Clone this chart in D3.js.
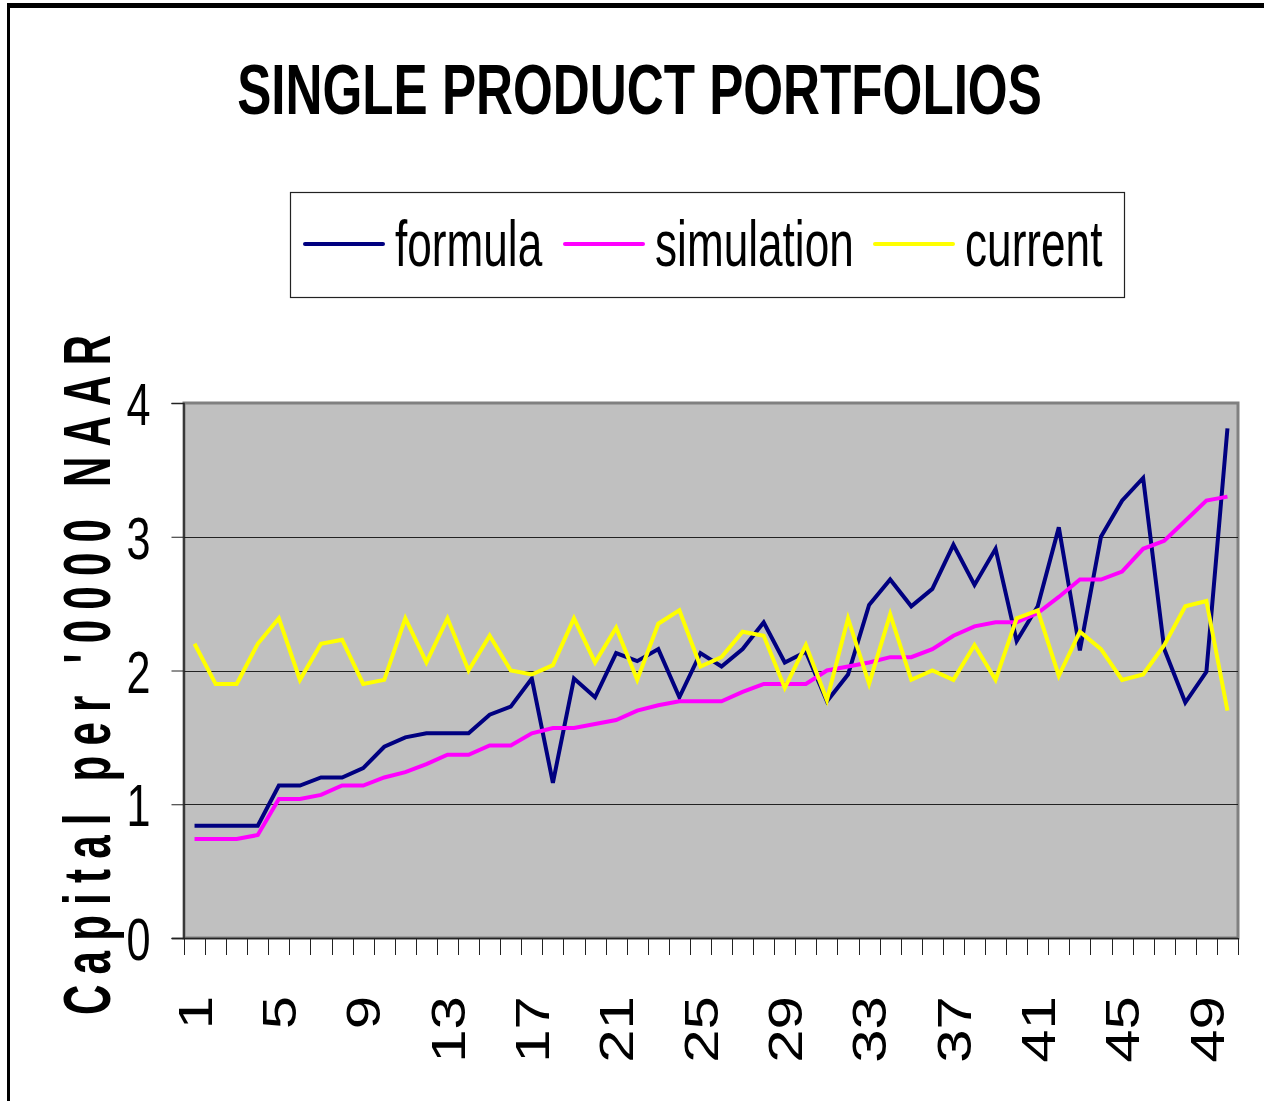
<!DOCTYPE html>
<html lang="en">

<head>
    <meta charset="UTF-8">
    <title>Single product portfolios</title>
    <script src="https://cdn.jsdelivr.net/npm/d3@7/dist/d3.min.js"></script>
</head>
<style>
    * {
        margin: 0;
        padding: 0;
    }

    body {
        background: #fff;
    }

    svg {
        display: block;
        font-family: "Liberation Sans", Arial, sans-serif;
    }
</style>

<body>
    <svg></svg>
</body>

</html>
<script>
    const categories = [1, 2, 3, 4, 5, 6, 7, 8, 9, 10, 11, 12, 13, 14, 15, 16, 17, 18, 19, 20,
        21, 22, 23, 24, 25, 26, 27, 28, 29, 30, 31, 32, 33, 34, 35, 36, 37, 38, 39, 40,
        41, 42, 43, 44, 45, 46, 47, 48, 49, 50];
    const xTickLabels = [1, 5, 9, 13, 17, 21, 25, 29, 33, 37, 41, 45, 49];
    const yTickValues = [0, 1, 2, 3, 4];

    const formula = [0.84, 0.84, 0.84, 0.84, 1.14, 1.14, 1.2, 1.2, 1.27, 1.43,
        1.5, 1.53, 1.53, 1.53, 1.67, 1.73, 1.94, 1.16, 1.94, 1.8,
        2.13, 2.07, 2.16, 1.8, 2.13, 2.03, 2.16, 2.36, 2.06, 2.14,
        1.77, 1.97, 2.49, 2.68, 2.48, 2.61, 2.94, 2.64, 2.91, 2.22,
        2.48, 3.07, 2.15, 3.0, 3.27, 3.44, 2.16, 1.76, 1.99, 3.81];
    const simulation = [0.74, 0.74, 0.74, 0.77, 1.04, 1.04, 1.07, 1.14, 1.14, 1.2,
        1.24, 1.3, 1.37, 1.37, 1.44, 1.44, 1.53, 1.57, 1.57, 1.6,
        1.63, 1.7, 1.74, 1.77, 1.77, 1.77, 1.84, 1.9, 1.9, 1.9,
        2.0, 2.03, 2.06, 2.1, 2.1, 2.16, 2.26, 2.33, 2.36, 2.36,
        2.43, 2.55, 2.68, 2.68, 2.74, 2.91, 2.97, 3.12, 3.27, 3.3];
    const current = [2.2, 1.9, 1.9, 2.2, 2.39, 1.93, 2.2, 2.23, 1.9, 1.93,
        2.39, 2.06, 2.39, 2.0, 2.26, 2.0, 1.97, 2.04, 2.39, 2.06,
        2.32, 1.93, 2.35, 2.45, 2.03, 2.1, 2.29, 2.26, 1.87, 2.19,
        1.78, 2.39, 1.9, 2.42, 1.93, 2.0, 1.93, 2.19, 1.93, 2.39,
        2.45, 1.96, 2.29, 2.16, 1.93, 1.97, 2.19, 2.48, 2.52, 1.7];

    const seriesNames = ['formula', 'simulation', 'current'];
    const seriesColors = ['#000080', '#ff00ff', '#ffff00'];
    const seriesValues = [formula, simulation, current];

    const svg = d3.select('svg').attr('width', 1264).attr('height', 1101);

    const plot = { left: 184, right: 1238, top: 403, bottom: 938 };
    const squeeze = 0.72; // the whole picture looks squeezed sideways

    const xScale = d3.scaleBand()
        .domain(categories)
        .range([plot.left, plot.right]);
    const yScale = d3.scaleLinear()
        .domain([0, 4])
        .range([plot.bottom, plot.top]);
    const bw = xScale.bandwidth();

    // outer chart frame (only top and left are inside the picture)
    svg.append('line').attr('x1', 8).attr('x2', 1264).attr('y1', 5.5).attr('y2', 5.5)
        .attr('stroke', '#000').attr('stroke-width', 5);
    svg.append('line').attr('x1', 8.5).attr('x2', 8.5).attr('y1', 3).attr('y2', 1101)
        .attr('stroke', '#000').attr('stroke-width', 3);

    // title
    svg.append('text')
        .attr('transform', 'translate(639.5,114) scale(0.721,1)')
        .attr('text-anchor', 'middle')
        .attr('font-size', 71).attr('font-weight', 'bold')
        .text('SINGLE PRODUCT PORTFOLIOS');

    // legend
    const legend = svg.append('g');
    legend.append('rect')
        .attr('x', 290.5).attr('y', 192.5).attr('width', 834).attr('height', 105)
        .attr('fill', '#fff').attr('stroke', '#222').attr('stroke-width', 1.2);
    const legendLineX = [305, 565, 875];
    seriesNames.forEach((name, i) => {
        legend.append('line')
            .attr('x1', legendLineX[i]).attr('x2', legendLineX[i] + 78)
            .attr('y1', 244).attr('y2', 244)
            .attr('stroke', seriesColors[i]).attr('stroke-width', 4)
            .attr('stroke-linecap', 'round');
        legend.append('text')
            .attr('transform', `translate(${legendLineX[i] + 90},266) scale(0.69,1)`)
            .attr('font-size', 64)
            .text(name);
    });

    // plot area
    svg.append('rect')
        .attr('x', plot.left).attr('y', plot.top)
        .attr('width', plot.right - plot.left).attr('height', plot.bottom - plot.top)
        .attr('fill', '#c0c0c0').attr('stroke', '#808080').attr('stroke-width', 3);

    svg.append('g').selectAll('line')
        .data(yTickValues.filter(v => v > 0 && v < 4)).enter()
        .append('line')
        .attr('x1', plot.left).attr('x2', plot.right)
        .attr('y1', d => Math.round(yScale(d)) + 0.5).attr('y2', d => Math.round(yScale(d)) + 0.5)
        .attr('stroke', '#222').attr('stroke-width', 1);

    // y axis
    const yAxis = svg.append('g')
        .attr('transform', `translate(${plot.left - 0.5},0)`)
        .call(d3.axisLeft(yScale).tickValues(yTickValues).tickSize(12).tickFormat(d3.format('d')));
    yAxis.select('.domain').attr('stroke', '#222').attr('stroke-width', 1.5);
    yAxis.selectAll('.tick line').attr('stroke', '#222');
    yAxis.selectAll('.tick text')
        .attr('x', 0).attr('dy', '0.36em')
        .attr('text-anchor', 'end')
        .attr('font-family', null)
        .attr('font-size', 60).attr('fill', '#000')
        .attr('transform', `translate(-33,0) scale(${squeeze},1)`);

    // x axis: tick marks between categories, labels every 4th
    const xAxis = svg.append('g');
    xAxis.append('line')
        .attr('x1', plot.left - 12).attr('x2', plot.right)
        .attr('y1', plot.bottom + 0.5).attr('y2', plot.bottom + 0.5)
        .attr('stroke', '#222').attr('stroke-width', 1.5);
    const tickPos = categories.map(c => xScale(c)).concat([xScale.range()[1]]);
    xAxis.selectAll('.xt')
        .data(tickPos).enter()
        .append('line')
        .attr('class', 'xt')
        .attr('x1', d => Math.round(d) + 0.5).attr('x2', d => Math.round(d) + 0.5)
        .attr('y1', plot.bottom).attr('y2', plot.bottom + 17)
        .attr('stroke', '#222').attr('stroke-width', 1);
    xAxis.selectAll('.xl')
        .data(xTickLabels).enter()
        .append('text')
        .attr('class', 'xl')
        .attr('transform', d => `translate(${xScale(d) + bw / 2},996) scale(0.8,1) rotate(-90)`)
        .attr('dy', '0.36em')
        .attr('text-anchor', 'end')
        .attr('font-size', 60)
        .text(d => d);

    // y axis title
    svg.append('text')
        .attr('transform', 'translate(110,675) scale(1.6,1) rotate(-90)')
        .attr('text-anchor', 'middle')
        .attr('font-size', 42).attr('font-weight', 'bold')
        .attr('textLength', 680).attr('lengthAdjust', 'spacing')
        .text("Capital per '0000 NAAR");

    // series lines
    const line = d3.line()
        .x((d, i) => xScale(categories[i]) + bw / 2)
        .y(d => yScale(d));

    svg.append('g').selectAll('path')
        .data(seriesValues).enter()
        .append('path')
        .attr('d', d => line(d))
        .attr('fill', 'none')
        .attr('stroke', (d, i) => seriesColors[i])
        .attr('stroke-width', 4)
        .attr('stroke-linejoin', 'miter');
</script>
